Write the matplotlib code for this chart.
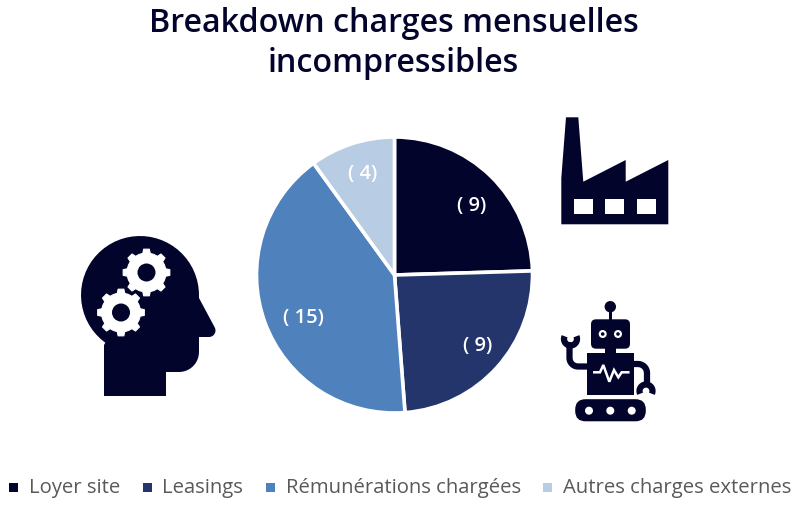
import numpy as np
import matplotlib
matplotlib.use("Agg")
import matplotlib.pyplot as plt
from matplotlib.patches import Polygon, Circle, Rectangle, FancyBboxPatch

plt.rcParams['font.family'] = ['Open Sans', 'DejaVu Sans']

title_lines = ["Breakdown charges mensuelles", "incompressibles"]
categories = ["Loyer site", "Leasings", "Rémunérations chargées", "Autres charges externes"]
values = [9.1, 9.0, 15.3, 3.7]
value_labels = ["( 9)", "( 9)", "( 15)", "( 4)"]
colors = ["#03042b", "#24356b", "#4f81bd", "#b8cce4"]

W, H = 795, 505
DARK = "#03042b"
legend_marker_x = [13, 147, 270, 547]
legend_text_x = [29, 162, 286, 563]
label_pos = [(472, 206.5), (478, 346.5), (303, 317.5), (363, 174.5)]

fig = plt.figure(figsize=(W / 100, H / 100), dpi=100)

# Pie, placed so that radius 1 is 137 px around (394, 275)
cx, cy, r = 394.5, 275, 138
ax = fig.add_axes([(cx - r) / W, 1 - (cy + r) / H, 2 * r / W, 2 * r / H])
ax.pie(values, colors=colors, startangle=90, counterclock=False, radius=1,
       wedgeprops=dict(edgecolor="white", linewidth=2.6))
ax.set_xlim(-1, 1)
ax.set_ylim(-1, 1)
ax.axis("off")

# Overlay in pixel coordinates for text and icons
ov = fig.add_axes([0, 0, 1, 1], zorder=5)
ov.set_xlim(0, W)
ov.set_ylim(H, 0)
ov.axis("off")
ov.patch.set_alpha(0)

for line, y in zip(title_lines, [23.5, 63.5]):
    ov.text(393.5, y, line, ha="center", va="center", fontsize=23.2, fontweight=600, color=DARK)

for lab, (x, y) in zip(value_labels, label_pos):
    ov.text(x, y, lab, ha="center", va="center", fontsize=14.5, fontweight=600, color="white")

for name, col, mx, tx in zip(categories, colors, legend_marker_x, legend_text_x):
    ov.add_patch(Rectangle((mx - 4.5, 482.5), 9, 9, color=col, lw=0))
    ov.text(tx, 487.5, name, ha="left", va="center", fontsize=14.55, color="#595959")


def arc(x0, y0, rad, a0, a1, n=40):
    t = np.radians(np.linspace(a0, a1, n))
    return np.column_stack([x0 + rad * np.cos(t), y0 + rad * np.sin(t)])


def gear(x0, y0, r_out, r_in, r_hole):
    pts = []
    for i in range(8):
        a = i * 45 - 90
        for da, rad in [(-22.5, r_in), (-11, r_in), (-7, r_out), (7, r_out), (11, r_in)]:
            t = np.radians(a + da)
            pts.append((x0 + rad * np.cos(t), y0 + rad * np.sin(t)))
    ov.add_patch(Polygon(pts, closed=True, color="white", lw=0.8, joinstyle="round"))
    ov.add_patch(Circle((x0, y0), r_hole, color=DARK, lw=0))


# Head with gears
skull = arc(140, 295, 59, 126, 360 - 3)
jaw = arc(179, 352, 20, 0, 90, 12)
nose = arc(209, 330.5, 6.5, -30, 90, 10)
head = np.vstack([[[104, 396], [104, 345]], skull, [[199, 298]], nose,
                  [[199, 337]], jaw, [[166, 372], [166, 396]]])
ov.add_patch(Polygon(head, closed=True, color=DARK, lw=0))
gear(146.5, 272.5, 23.5, 19.5, 9)
gear(121, 312.5, 23.5, 19.5, 9)

# Factory
factory = [(561.3, 224.3), (561.3, 178), (566, 117.3), (578.3, 117.3), (583.3, 181.7),
           (625.7, 160), (625.7, 181.7), (668.3, 160), (668.3, 224.3)]
ov.add_patch(Polygon(factory, closed=True, color=DARK, lw=0))
for wx in [573.7, 605.3, 637]:
    ov.add_patch(Rectangle((wx, 199), 19, 14.7, color="white", lw=0))

# Robot
ov.add_patch(Circle((610.3, 306.7), 5.7, color=DARK, lw=0))
ov.add_patch(Rectangle((608.7, 308), 3.2, 14, color=DARK, lw=0))
ov.add_patch(FancyBboxPatch((596, 324.3), 29, 19.4, boxstyle="round,pad=5", color=DARK, lw=0))
for ex in [602.7, 618]:
    ov.add_patch(Circle((ex, 334), 4, color="white", lw=0))
    ov.add_patch(Circle((ex, 334), 1.8, color=DARK, lw=0))
ov.add_patch(Rectangle((605, 347), 11, 8, color=DARK, lw=0))
ov.add_patch(Rectangle((586.7, 353.3), 47.6, 41.7, color=DARK, lw=0))
ov.add_patch(FancyBboxPatch((585.5, 409.5), 50, 1.5, boxstyle="round,pad=10.3", color=DARK, lw=0))
for wx in [589, 610.3, 631.7]:
    ov.add_patch(Circle((wx, 410.7), 4, color="white", lw=0))

pulse_x = [594.3, 600, 603.3, 609.3, 614, 618.3, 621.7, 628.3]
pulse_y = [372.3, 372.3, 365, 381.7, 370, 377.3, 372.3, 372.3]
ov.plot(pulse_x, pulse_y, color="white", lw=1.8, solid_joinstyle="miter")

# Left arm and claw
l_arm = np.vstack([[[587, 366.5]], arc(578, 358, 8.5, 90, 180, 10), [[569.5, 345]]])
ov.plot(l_arm[:, 0], l_arm[:, 1], color=DARK, lw=4.5, solid_capstyle="round")
l_claw = arc(570.5, 339, 6.5, -25, 205, 30)
ov.plot(l_claw[:, 0], l_claw[:, 1], color=DARK, lw=4.5, solid_capstyle="butt")

# Right arm and claw
r_arm = np.vstack([[[634, 364]], arc(638, 373, 9, -90, 0, 10), [[647, 382]]])
ov.plot(r_arm[:, 0], r_arm[:, 1], color=DARK, lw=4.5, solid_capstyle="round")
r_claw = arc(646, 391, 6.5, 155, 385, 30)
ov.plot(r_claw[:, 0], r_claw[:, 1], color=DARK, lw=4.5, solid_capstyle="butt")

fig.savefig("out.png", dpi=100)
